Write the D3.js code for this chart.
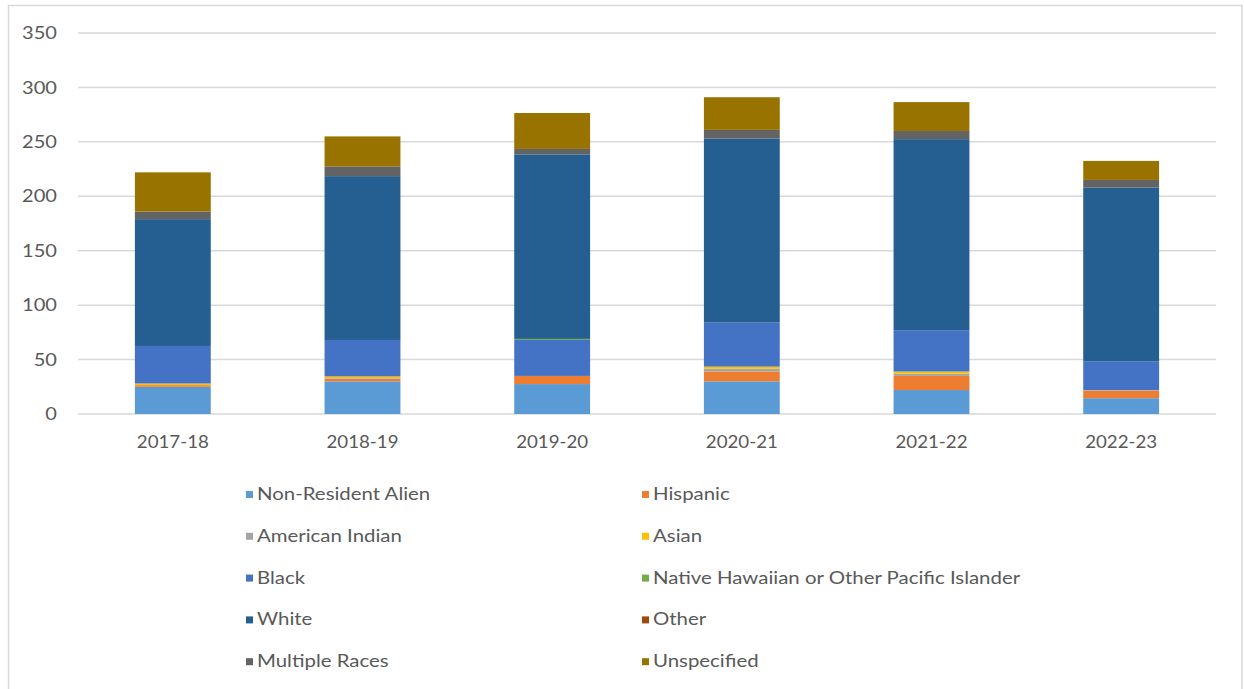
<!DOCTYPE html>
<html>
<head>
<meta charset="utf-8">
<script src="https://cdn.jsdelivr.net/npm/d3@7"></script>
<style>
  body { margin: 0; background: #fff; }
  text { font-family: Lato, "Open Sans", sans-serif; fill: #595959; }
</style>
</head>
<body>
<div id="chart"></div>
<script>
//data
var years = ["2017-18", "2018-19", "2019-20", "2020-21", "2021-22", "2022-23"];
var groups = ["Non-Resident Alien", "Hispanic", "American Indian", "Asian", "Black",
              "Native Hawaiian or Other Pacific Islander", "White", "Other", "Multiple Races", "Unspecified"];
var colors = ["#5B9BD5", "#ED7D31", "#A5A5A5", "#FFC000", "#4472C4",
              "#70AD47", "#255E91", "#9E480E", "#636363", "#997300"];

var nonResident = [25, 30, 27.5, 30, 22, 14.5];
var hispanic    = [1.5, 2.5, 7.5, 9, 13, 7];
var amIndian    = [0, 0.5, 0, 2.5, 2, 0.5];
var asian       = [1.5, 1.5, 0, 2, 2, 0];
var black       = [34.5, 33.5, 33, 40.5, 38, 26.5];
var nhpi        = [0, 0, 1, 0, 0, 0];
var white       = [116.5, 150.5, 169.5, 169, 175.5, 159.5];
var other       = [0, 0, 0, 0, 0, 0];
var multiple    = [7, 9, 5, 8, 7.5, 7];
var unspecified = [36, 27.5, 33, 30, 26.5, 17.5];

var yTicks = [0, 50, 100, 150, 200, 250, 300, 350];

var series = [nonResident, hispanic, amIndian, asian, black, nhpi, white, other, multiple, unspecified];

//build table for the stack
var table = years.map(function(y, i) {
  var row = {year: y};
  groups.forEach(function(g, j) { row[g] = series[j][i]; });
  return row;
});

var svg_w = 1244, svg_h = 689;
var svg = d3.select("#chart").append("svg")
  .attr("width", svg_w).attr("height", svg_h);

//outer frame
svg.append("rect")
  .attr("x", 8.5).attr("y", 5.5)
  .attr("width", 1233.5).attr("height", 700)
  .attr("fill", "none").attr("stroke", "#d9d9d9").attr("stroke-width", 1.5);

var x = d3.scaleBand().domain(years).range([78, 1216]).paddingInner(0.6).paddingOuter(0.3);
var y = d3.scaleLinear().domain([0, 350]).range([414, 33]);
var color = d3.scaleOrdinal().domain(groups).range(colors);

//gridlines
svg.append("g").selectAll("line")
  .data(yTicks).enter().append("line")
  .attr("x1", 78).attr("x2", 1216)
  .attr("y1", function(d) { return y(d); }).attr("y2", function(d) { return y(d); })
  .attr("stroke", "#d9d9d9").attr("stroke-width", 1.5);

//y labels (text is a bit stretched sideways in the original)
svg.append("g").selectAll("text")
  .data(yTicks).enter().append("text")
  .attr("transform", function(d) { return "translate(57," + y(d) + ") scale(1.18,1)"; })
  .attr("dy", "0.36em")
  .attr("text-anchor", "end")
  .style("font-size", "17px")
  .text(function(d) { return d; });

//stacked bars
var stack = d3.stack().keys(groups)(table);
svg.append("g").selectAll("g")
  .data(stack).enter().append("g")
  .attr("fill", function(d) { return color(d.key); })
  .selectAll("rect")
  .data(function(d) { return d; }).enter().append("rect")
  .attr("x", function(d) { return x(d.data.year); })
  .attr("width", x.bandwidth())
  .attr("y", function(d) { return y(d[1]); })
  .attr("height", function(d) { return y(d[0]) - y(d[1]); });

//x labels
svg.append("g").selectAll("text")
  .data(years).enter().append("text")
  .attr("transform", function(d) { return "translate(" + (x(d) + x.bandwidth() / 2) + ",448) scale(1.1,1)"; })
  .attr("text-anchor", "middle")
  .style("font-size", "17px")
  .text(function(d) { return d; });

//legend, two columns
var legend = svg.append("g").selectAll("g")
  .data(groups).enter().append("g")
  .attr("transform", function(d, i) {
    return "translate(" + (i % 2 ? 642 : 246) + "," + (500 + Math.floor(i / 2) * 41.8) + ")";
  });

legend.append("rect")
  .attr("y", -9).attr("width", 7).attr("height", 7)
  .attr("fill", function(d) { return color(d); });

legend.append("text")
  .attr("transform", "translate(11,0) scale(1.2,1)")
  .style("font-size", "17px")
  .text(function(d) { return d; });
</script>
</body>
</html>
